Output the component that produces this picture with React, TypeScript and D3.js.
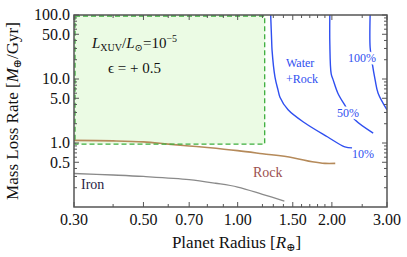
import React from "react";
import * as d3 from "d3";

const radiusTicks = [0.3, 0.5, 0.7, 1.0, 1.5, 2.0, 3.0];
const radiusTickLabels = ["0.30", "0.50", "0.70", "1.00", "1.50", "2.00", "3.00"];
const radiusMinor = [0.4, 0.6, 0.8, 0.9, 1.2, 1.3, 1.4, 1.6, 1.7, 1.8, 1.9, 2.5];
const rateTicks = [0.5, 1, 5, 10, 50, 100];
const rateTickLabels = ["0.5", "1.0", "5.0", "10.0", "50.0", "100.0"];
const rateMinor = [0.2, 0.3, 0.4, 0.6, 0.7, 0.8, 0.9, 2, 3, 4, 6, 7, 8, 9, 20, 30, 40, 60, 70, 80, 90];

// [radius, rate]
const rockCurve: [number, number][] = [
  [0.3, 1.1], [0.4, 1.08], [0.5, 1.04], [0.6, 0.96], [0.7, 0.9], [0.8, 0.85],
  [1.0, 0.76], [1.2, 0.68], [1.5, 0.59], [1.73, 0.51], [1.9, 0.48], [2.05, 0.48],
];
const ironCurve: [number, number][] = [
  [0.3, 0.334], [0.4, 0.316], [0.5, 0.3], [0.7, 0.268], [0.85, 0.235],
  [1.0, 0.205], [1.2, 0.158], [1.41, 0.124],
];
const water10: [number, number][] = [
  [1.275, 100], [1.284, 40], [1.288, 28], [1.316, 10.7], [1.346, 6.7], [1.365, 5.2],
  [1.449, 3.3], [1.64, 2.05], [1.94, 1.24], [2.2, 0.87], [2.32, 0.84],
];
const water50: [number, number][] = [
  [1.97, 100], [1.97, 36], [1.99, 12], [2.02, 9.6], [2.09, 6.0], [2.2, 3.9],
  [2.37, 2.3], [2.71, 1.43],
];
const water100: [number, number][] = [
  [2.65, 100], [2.65, 31], [2.69, 17.8], [2.75, 9.6], [2.81, 6.0], [3.0, 3.3],
];
const boxRadius = [0.3, 1.22];
const boxRate = [0.96, 100];

const W = 407, H = 257;
const L = 74, R = 387, T = 15, B = 207;
const serif = "'Liberation Serif', 'DejaVu Serif', serif";

export default function App() {
  const x = d3.scaleLog().domain([0.3, 3]).range([L, R]);
  const y = d3.scaleLog().domain([0.1, 100]).range([B, T]);
  const line = d3.line<[number, number]>().x(d => x(d[0])).y(d => y(d[1])).curve(d3.curveCatmullRom.alpha(0.5));

  const frameColor = "#555";
  const blue = "#2f4ff0";
  const tickEls: React.ReactNode[] = [];
  radiusTicks.forEach((v, i) => {
    tickEls.push(<line key={"xb" + i} x1={x(v)} x2={x(v)} y1={B} y2={B - 5} stroke={frameColor} />);
    tickEls.push(<line key={"xt" + i} x1={x(v)} x2={x(v)} y1={T} y2={T + 5} stroke={frameColor} />);
  });
  radiusMinor.forEach((v, i) => {
    tickEls.push(<line key={"xbm" + i} x1={x(v)} x2={x(v)} y1={B} y2={B - 3} stroke={frameColor} />);
    tickEls.push(<line key={"xtm" + i} x1={x(v)} x2={x(v)} y1={T} y2={T + 3} stroke={frameColor} />);
  });
  rateTicks.forEach((v, i) => {
    tickEls.push(<line key={"yl" + i} x1={L} x2={L + 5} y1={y(v)} y2={y(v)} stroke={frameColor} />);
    tickEls.push(<line key={"yr" + i} x1={R} x2={R - 5} y1={y(v)} y2={y(v)} stroke={frameColor} />);
  });
  rateMinor.forEach((v, i) => {
    tickEls.push(<line key={"ylm" + i} x1={L} x2={L + 3} y1={y(v)} y2={y(v)} stroke={frameColor} />);
    tickEls.push(<line key={"yrm" + i} x1={R} x2={R - 3} y1={y(v)} y2={y(v)} stroke={frameColor} />);
  });

  const labelBg = { paintOrder: "stroke" as const, stroke: "#fff", strokeWidth: 5, strokeLinejoin: "round" as const, fontFamily: serif };
  const tf = { fontFamily: serif };

  return (
    <svg width={W} height={H} style={{ position: "absolute", left: 0, top: 0, background: "#fff" }}>
      <defs>
        <clipPath id="plot"><rect x={L} y={T} width={R - L} height={B - T} /></clipPath>
      </defs>
      <g clipPath="url(#plot)">
        <rect x={x(boxRadius[0])} y={y(boxRate[1])} width={x(boxRadius[1]) - x(boxRadius[0])}
          height={y(boxRate[0]) - y(boxRate[1])} fill="#ebfbe4" />
        <path d={line(rockCurve) || ""} fill="none" stroke="#b58a5a" strokeWidth={1.6} />
        <rect x={x(boxRadius[0]) + 1} y={y(boxRate[1]) + 1} width={x(boxRadius[1]) - x(boxRadius[0]) - 1}
          height={y(boxRate[0]) - y(boxRate[1]) - 1} fill="none" stroke="#3cae3c" strokeWidth={1.3} strokeDasharray="5,3" />
        <path d={line(ironCurve) || ""} fill="none" stroke="#8a8a8a" strokeWidth={1.3} />
        <path d={line(water10) || ""} fill="none" stroke={blue} strokeWidth={1.4} />
        <path d={line(water50) || ""} fill="none" stroke={blue} strokeWidth={1.4} />
        <path d={line(water100) || ""} fill="none" stroke={blue} strokeWidth={1.4} />
      </g>
      <g fontSize={12} fill={blue}>
        <text x={348} y={62} style={labelBg}>100%</text>
        <text x={337} y={117} style={labelBg}>50%</text>
        <text x={352} y={158} style={labelBg}>10%</text>
        <text x={286} y={67} style={tf}>Water</text>
        <text x={286} y={83} style={tf}>+Rock</text>
      </g>
      <text x={253} y={177} fontSize={14} fill="#9c5050" style={tf}>Rock</text>
      <text x={81} y={189} fontSize={14} fill="#2a2545" style={tf}>Iron</text>
      <text x={92} y={48} fontSize={15} fill="#111" style={tf}>
        <tspan fontStyle="italic">L</tspan>
        <tspan fontSize={10} dy={3}>XUV</tspan>
        <tspan dy={-3}>/</tspan>
        <tspan fontStyle="italic">L</tspan>
        <tspan fontSize={10} dy={3}>⊙</tspan>
        <tspan dy={-3}>=10</tspan>
        <tspan fontSize={10} dy={-6}>−5</tspan>
      </text>
      <text x={108} y={73} fontSize={15} fill="#111" style={tf}>ϵ =  + 0.5</text>
      {tickEls}
      <rect x={L} y={T} width={R - L} height={B - T} fill="none" stroke={frameColor} strokeWidth={1.5} />
      <g fontSize={16} fill="#111">
        {radiusTicks.map((v, i) => (
          <text key={"xl" + i} x={x(v)} y={225} textAnchor="middle" style={tf}>{radiusTickLabels[i]}</text>
        ))}
        {rateTicks.map((v, i) => (
          <text key={"yl" + i} x={70} y={y(v)} dy="0.33em" textAnchor="end" style={tf}>{rateTickLabels[i]}</text>
        ))}
      </g>
      <text x={(L + R) / 2 + 6} y={248} fontSize={17} textAnchor="middle" fill="#111" style={tf}>
        Planet Radius [<tspan fontStyle="italic">R</tspan><tspan fontSize={11} dy={3}>⊕</tspan><tspan dy={-3}>]</tspan>
      </text>
      <text transform={`translate(18,111) rotate(-90)`} fontSize={17} textAnchor="middle" fill="#111" style={tf}>
        Mass Loss Rate [<tspan fontStyle="italic">M</tspan><tspan fontSize={11} dy={3}>⊕</tspan><tspan dy={-3}>/Gyr]</tspan>
      </text>
    </svg>
  );
}
